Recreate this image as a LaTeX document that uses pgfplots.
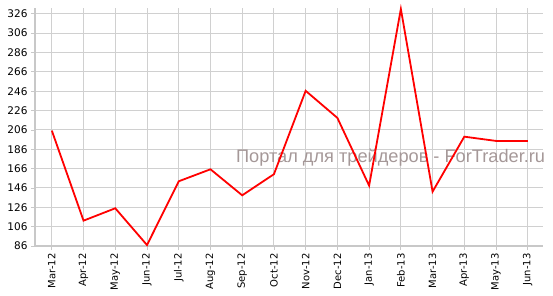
\documentclass[border=0pt]{standalone}
\usepackage{fontspec}
\setmainfont{DejaVu Sans}
\newfontfamily\wmfont{Liberation Sans}
\usepackage{pgfplots}
\pgfplotsset{compat=1.18}
\definecolor{gridc}{RGB}{208,208,208}
\definecolor{axc}{RGB}{200,200,200}
\definecolor{wm}{RGB}{165,152,152}
\begin{document}
\begin{tikzpicture}[x=1pt,y=1pt]
\useasboundingbox (0,0) rectangle (553,295);
\begin{axis}[
  at={(35pt,49pt)}, anchor=south west,
  scale only axis, width=508pt, height=238pt,
  xmin=-0.53, xmax=15.48, ymin=86, ymax=332,
  axis x line=bottom, axis y line=left,
  axis line style={draw=axc, line width=2.2pt, -},
  xtick={0,...,15},
  xticklabels={Mar-12,Apr-12,May-12,Jun-12,Jul-12,Aug-12,Sep-12,Oct-12,Nov-12,Dec-12,Jan-13,Feb-13,Mar-13,Apr-13,May-13,Jun-13},
  x tick label style={rotate=90, anchor=east, font=\fontsize{10}{12}\selectfont, text=black},
  ytick={86,106,...,326},
  y tick label style={font=\fontsize{10.5}{12}\selectfont, text=black},
  tick align=outside, major tick length=4pt,
  tick style={draw=axc, line width=0.8pt},
  grid=major, grid style={draw=gridc, line width=1pt},
  /pgf/number format/assume math mode=true,
  clip=false,
]
\node[font=\wmfont\fontsize{18.2}{20}\selectfont, text=wm] at (rel axis cs:0.700,0.37) {Портал для трейдеров - ForTrader.ru};
\addplot[red, line width=1.8pt, line join=miter] coordinates {
(0,205.3) (1,112.2) (2,125) (3,87) (4,152.9) (5,165.3) (6,138.4) (7,160.2)
(8,246.4) (9,218.4) (10,148.4) (11,331) (12,142.2) (13,199) (14,194.6) (15,194.6)};
\end{axis}
\end{tikzpicture}
\end{document}
